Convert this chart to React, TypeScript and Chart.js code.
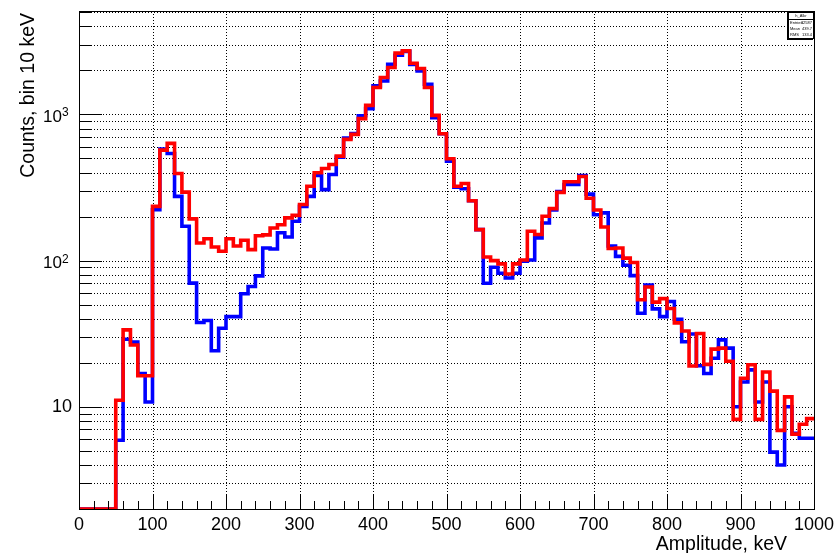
import React, { useEffect, useRef } from "react";
import { Chart, registerables } from "chart.js";

Chart.register(...registerables);

// Amplitude spectrum, 10 keV bins from 0 to 1000 keV
const BIN_WIDTH = 10;
const X_MIN = 0;
const X_MAX = 1000;

// Counts per bin (bin i covers [10*i, 10*i + 10) keV)
const BLUE_COUNTS = [
  0, 0, 0, 0, 0, 5.9, 29.0, 27.7, 16.9, 10.8,
  223, 580, 541, 275, 172, 70.2, 37.7, 38.9, 24.2, 34.5,
  41.4, 41.4, 59.3, 66.5, 78.7, 122, 120, 155, 145, 186,
  235, 275, 382, 306, 388, 510, 690, 740, 980, 1096,
  1567, 1695, 2206, 2541, 2700, 2200, 1985, 1607, 951, 738,
  479, 318, 310, 257, 163, 70, 90, 82, 76, 82,
  99, 101, 143, 181, 222, 297, 332, 332, 382, 285,
  206, 212, 126, 107, 93, 79, 43.7, 68, 46.8, 41.4,
  52.5, 39.7, 27.9, 31.5, 19.1, 16.9, 21.5, 28.7, 25.2, 10.0,
  14.8, 17.9, 10.8, 14.8, 4.9, 4.0, 10.0, 6.6, 6.1, 6.1,
];

const RED_COUNTS = [
  0, 0, 0, 0, 0, 11.1, 33.6, 26.5, 16.3, 16.3,
  235, 570, 634, 394, 294, 193, 132, 141, 124, 116,
  141, 126, 138, 119, 148, 150, 167, 176, 196, 204,
  242, 323, 399, 427, 455, 519, 675, 731, 936, 1154,
  1527, 1788, 2093, 2625, 2722, 2240, 2061, 1527, 986, 738,
  498, 323, 337, 257, 163, 106, 100, 95, 81, 95,
  101, 159, 151, 201, 227, 293, 346, 346, 376, 267,
  222, 170, 121, 122, 104, 97, 54, 66, 52, 55,
  47, 37.5, 33, 19, 31.7, 19.5, 24.8, 25.2, 20.5, 8.2,
  15.7, 19.4, 8.2, 17.3, 12.8, 6.9, 11.7, 6.5, 7.6, 8.3,
];

const Y_MIN = 2;
const Y_MAX = 5100;

const X_MAJOR_TICKS = [0, 100, 200, 300, 400, 500, 600, 700, 800, 900, 1000];
const X_MINOR_STEP = 20;
const Y_MAJOR_TICKS = [10, 100, 1000];
const Y_MINOR_TICKS = [
  3, 4, 5, 6, 7, 8, 9,
  20, 30, 40, 50, 60, 70, 80, 90,
  200, 300, 400, 500, 600, 700, 800, 900,
  2000, 3000, 4000, 5000,
];

const X_TITLE = "Amplitude, keV";
const Y_TITLE = "Counts, bin 10 keV";
const STATS_NAME = "h_Alkr";

const FONT = '"Liberation Sans", Arial, Helvetica, sans-serif';

// Histogram contour: one point per lower bin edge plus the closing edge.
// Empty bins sit on the axis floor, as on a log pad.
function histPoints(counts: number[]) {
  const pts = counts.map((v, i) => ({ x: i * BIN_WIDTH, y: v > 0 ? v : Y_MIN }));
  const last = counts[counts.length - 1];
  pts.push({ x: counts.length * BIN_WIDTH, y: last > 0 ? last : Y_MIN });
  return pts;
}

function histStats(counts: number[]) {
  let n = 0, s = 0, s2 = 0;
  counts.forEach((v, i) => {
    const c = (i + 0.5) * BIN_WIDTH;
    n += v; s += v * c; s2 += v * c * c;
  });
  const mean = s / n;
  const rms = Math.sqrt(Math.max(0, s2 / n - mean * mean));
  return { entries: Math.round(n), mean, rms };
}

const padFrame = {
  id: "padFrame",
  beforeDatasetsDraw(chart: any) {
    const { ctx, chartArea: a } = chart;
    const x = chart.scales.x;
    const y = chart.scales.y;
    ctx.save();
    ctx.strokeStyle = "#000";
    ctx.lineWidth = 1;
    ctx.setLineDash([1, 2]);
    ctx.beginPath();
    for (const v of X_MAJOR_TICKS) {
      if (v <= X_MIN || v >= X_MAX) continue;
      const px = Math.round(x.getPixelForValue(v)) + 0.5;
      ctx.moveTo(px, a.top);
      ctx.lineTo(px, a.bottom);
    }
    for (const v of [...Y_MAJOR_TICKS, ...Y_MINOR_TICKS]) {
      if (v <= Y_MIN || v >= Y_MAX) continue;
      const py = Math.round(y.getPixelForValue(v)) + 0.5;
      ctx.moveTo(a.left, py);
      ctx.lineTo(a.right, py);
    }
    ctx.stroke();
    ctx.setLineDash([]);
    ctx.strokeRect(Math.round(a.left) + 0.5, Math.round(a.top) + 0.5, Math.round(a.right - a.left), Math.round(a.bottom - a.top));
    ctx.restore();
  },
  afterDatasetsDraw(chart: any) {
    const { ctx, chartArea: a } = chart;
    const x = chart.scales.x;
    const y = chart.scales.y;
    ctx.save();
    ctx.strokeStyle = "#000";
    ctx.fillStyle = "#000";
    ctx.lineWidth = 1;
    ctx.beginPath();
    const bottom = Math.round(a.bottom);
    const left = Math.round(a.left);
    // x axis ticks, drawn inward
    for (let v = X_MIN; v <= X_MAX; v += X_MINOR_STEP) {
      const px = Math.round(x.getPixelForValue(v)) + 0.5;
      const len = X_MAJOR_TICKS.includes(v) ? 14 : 8;
      ctx.moveTo(px, bottom);
      ctx.lineTo(px, bottom - len);
    }
    // y axis ticks, drawn inward
    for (const v of Y_MAJOR_TICKS) {
      const py = Math.round(y.getPixelForValue(v)) + 0.5;
      ctx.moveTo(left, py);
      ctx.lineTo(left + 23, py);
    }
    for (const v of Y_MINOR_TICKS) {
      if (v >= Y_MAX) continue;
      const py = Math.round(y.getPixelForValue(v)) + 0.5;
      ctx.moveTo(left, py);
      ctx.lineTo(left + 12, py);
    }
    ctx.stroke();

    // x tick labels
    ctx.font = `18px ${FONT}`;
    ctx.textAlign = "center";
    ctx.textBaseline = "alphabetic";
    for (const v of X_MAJOR_TICKS) {
      ctx.fillText(String(v), x.getPixelForValue(v), bottom + 21);
    }

    // y tick labels as powers of ten
    for (const v of Y_MAJOR_TICKS) {
      const py = y.getPixelForValue(v);
      const e = Math.round(Math.log10(v));
      if (e === 1) {
        ctx.font = `18px ${FONT}`;
        ctx.textAlign = "right";
        ctx.textBaseline = "middle";
        ctx.fillText("10", left - 7, py);
      } else {
        ctx.font = `17px ${FONT}`;
        ctx.textAlign = "right";
        ctx.textBaseline = "middle";
        ctx.fillText("10", left - 17, py + 3);
        ctx.font = `12px ${FONT}`;
        ctx.textAlign = "left";
        ctx.textBaseline = "alphabetic";
        ctx.fillText(String(e), left - 17, py + 2);
      }
    }

    // axis titles
    ctx.font = `19.5px ${FONT}`;
    ctx.textAlign = "right";
    ctx.textBaseline = "alphabetic";
    ctx.fillText(X_TITLE, 787, 550);
    ctx.save();
    ctx.translate(34, 13);
    ctx.rotate(-Math.PI / 2);
    ctx.textAlign = "right";
    ctx.fillText(Y_TITLE, 0, 0);
    ctx.restore();

    // statistics box
    const st = histStats(BLUE_COUNTS);
    const bx = 788, by = 12, bw = Math.round(a.right) - 788, bh = 27;
    ctx.fillStyle = "#000";
    ctx.fillRect(bx - 1, by + 1, bw, bh);
    ctx.fillStyle = "#fff";
    ctx.fillRect(bx, by, bw, bh);
    ctx.strokeRect(bx + 0.5, by + 0.5, bw - 1, bh - 1);
    ctx.beginPath();
    ctx.moveTo(bx, by + 7.5);
    ctx.lineTo(bx + bw, by + 7.5);
    ctx.stroke();
    ctx.fillStyle = "#000";
    ctx.font = `4px ${FONT}`;
    ctx.textBaseline = "middle";
    ctx.textAlign = "center";
    ctx.fillText(STATS_NAME, bx + bw / 2, by + 4);
    const rows: [string, string][] = [
      ["Entries", String(st.entries)],
      ["Mean", st.mean.toFixed(1)],
      ["RMS", st.rms.toFixed(1)],
    ];
    rows.forEach(([k, val], i) => {
      const ry = by + 11 + i * 6;
      ctx.textAlign = "left";
      ctx.fillText(k, bx + 2, ry);
      ctx.textAlign = "right";
      ctx.fillText(val, bx + bw - 2, ry);
    });
    ctx.restore();
  },
};

export default function App() {
  const canvasRef = useRef<HTMLCanvasElement | null>(null);

  useEffect(() => {
    const canvas = canvasRef.current;
    if (!canvas) return;
    const chart = new Chart(canvas, {
      type: "line",
      data: {
        datasets: [
          {
            label: "blue",
            data: histPoints(BLUE_COUNTS),
            borderColor: "#0000ff",
            borderWidth: 3.6,
            stepped: true,
            pointRadius: 0,
            fill: false,
            borderJoinStyle: "miter",
            order: 2,
          },
          {
            label: "red",
            data: histPoints(RED_COUNTS),
            borderColor: "#ff0000",
            borderWidth: 3.6,
            stepped: true,
            pointRadius: 0,
            fill: false,
            borderJoinStyle: "miter",
            order: 1,
          },
        ],
      },
      options: {
        responsive: false,
        animation: false,
        devicePixelRatio: 1,
        layout: { padding: { left: 79, right: 21, top: 11, bottom: 44 } },
        plugins: {
          legend: { display: false },
          tooltip: { enabled: false },
        },
        scales: {
          x: { type: "linear", min: X_MIN, max: X_MAX, display: false },
          y: { type: "logarithmic", min: Y_MIN, max: Y_MAX, display: false },
        },
      },
      plugins: [padFrame],
    });
    return () => chart.destroy();
  }, []);

  return (
    <div style={{ position: "absolute", left: 0, top: 0, width: 835, height: 553, background: "#fff" }}>
      <canvas ref={canvasRef} width={835} height={553} style={{ display: "block" }} />
    </div>
  );
}
